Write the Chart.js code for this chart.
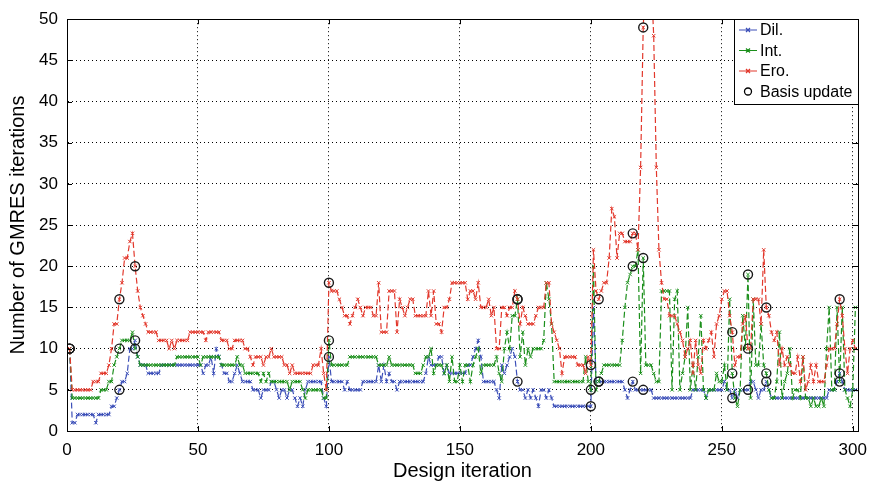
<!DOCTYPE html>
<html>
<head>
<meta charset="utf-8">
<script src="https://cdn.jsdelivr.net/npm/chart.js@4.4.1/dist/chart.umd.min.js"></script>
<style>
  html, body { margin: 0; padding: 0; background: #fff; }
  #wrap { width: 873px; height: 488px; position: relative; }
</style>
</head>
<body>
<div id="wrap"><canvas id="gmresChart"></canvas></div>
<script>
// GMRES iterations per design iteration (iterations 1..301)
const dil = [
  10, 1, 1, 2, 2, 2, 2, 2, 2, 2,
  1, 2, 2, 2, 2, 2, 3, 3, 4, 5,
  6, 6, 7, 10, 10, 11, 9, 8, 8, 8,
  7, 7, 7, 7, 7, 8, 8, 8, 8, 8,
  8, 8, 8, 8, 8, 8, 8, 8, 8, 8,
  8, 7, 8, 8, 9, 7, 10, 9, 8, 7,
  7, 6, 6, 7, 8, 7, 6, 6, 6, 6,
  5, 5, 5, 4, 5, 5, 5, 6, 6, 5,
  4, 5, 5, 4, 5, 5, 4, 3, 4, 3,
  5, 6, 6, 6, 6, 6, 6, 4, 3, 9,
  6, 6, 6, 6, 6, 5, 6, 5, 5, 5,
  5, 5, 6, 6, 6, 6, 6, 6, 8, 6,
  8, 6, 7, 6, 6, 5, 6, 6, 6, 6,
  6, 6, 6, 6, 6, 6, 7, 9, 8, 8,
  8, 9, 9, 7, 8, 7, 7, 7, 7, 7,
  7, 7, 8, 8, 9, 10, 11, 9, 6, 6,
  6, 6, 6, 5, 4, 8, 7, 8, 9, 10,
  9, 6, 5, 5, 4, 5, 4, 5, 4, 3,
  5, 5, 4, 5, 4, 3, 3, 3, 3, 3,
  3, 3, 3, 3, 3, 3, 3, 3, 3, 3,
  15, 6, 6, 6, 6, 6, 6, 6, 6, 6,
  6, 6, 5, 4, 5, 6, 5, 5, 5, 5,
  5, 5, 5, 4, 4, 4, 4, 4, 4, 4,
  4, 4, 4, 4, 4, 4, 4, 4, 5, 5,
  5, 5, 5, 4, 5, 5, 5, 5, 5, 5,
  6, 5, 5, 4, 5, 4, 5, 5, 5, 5,
  6, 6, 5, 4, 5, 5, 6, 5, 4, 4,
  4, 4, 4, 4, 4, 4, 4, 4, 4, 4,
  4, 4, 4, 4, 4, 4, 4, 4, 4, 4,
  5, 5, 5, 6, 7, 6, 5, 5, 5, 5,
  5
];

const int = [
  10, 4, 4, 4, 4, 4, 4, 4, 4, 4,
  4, 4, 5, 5, 5, 6, 6, 8, 9, 10,
  11, 11, 11, 11, 12, 10, 9, 8, 8, 8,
  8, 8, 8, 8, 8, 8, 8, 8, 8, 8,
  8, 9, 9, 9, 9, 9, 9, 9, 9, 9,
  8, 9, 9, 9, 9, 9, 9, 9, 8, 8,
  8, 8, 8, 8, 9, 8, 8, 7, 7, 7,
  7, 7, 7, 6, 7, 6, 7, 6, 6, 6,
  6, 6, 6, 6, 5, 6, 6, 6, 6, 5,
  4, 5, 5, 5, 5, 5, 5, 4, 4, 11,
  8, 8, 8, 8, 8, 8, 8, 9, 9, 9,
  9, 9, 9, 9, 9, 9, 9, 9, 8, 8,
  8, 8, 9, 8, 8, 8, 8, 8, 8, 8,
  8, 8, 7, 7, 7, 8, 9, 9, 10, 7,
  8, 8, 8, 7, 8, 6, 9, 6, 6, 8,
  6, 8, 8, 6, 8, 9, 10, 7, 8, 8,
  8, 8, 8, 9, 7, 6, 10, 12, 10, 14,
  14, 16, 9, 12, 8, 10, 9, 10, 10, 10,
  10, 11, 18, 16, 13, 6, 6, 6, 6, 6,
  6, 6, 6, 6, 6, 6, 6, 9, 6, 5,
  20, 5, 6, 7, 8, 8, 8, 8, 8, 8,
  8, 11, 15, 18, 19, 20, 20, 22, 7, 21,
  8, 8, 8, 7, 6, 6, 17, 17, 17, 17,
  5, 16, 17, 5, 7, 9, 15, 5, 8, 5,
  9, 14, 5, 4, 5, 5, 5, 7, 6, 6,
  8, 5, 16, 7, 4, 3, 5, 14, 10, 19,
  4, 16, 8, 8, 13, 8, 7, 5, 4, 4,
  6, 12, 4, 6, 7, 10, 4, 5, 5, 4,
  9, 4, 4, 3, 4, 3, 3, 4, 3, 10,
  15, 5, 5, 15, 6, 15, 5, 4, 3, 5,
  15
];

const ero = [
  10, 5, 5, 5, 5, 5, 5, 5, 5, 6,
  6, 6, 7, 7, 7, 8, 10, 13, 13, 16,
  18, 21, 21, 23, 24, 20, 17, 15, 14, 13,
  12, 12, 12, 12, 11, 11, 11, 11, 10, 11,
  10, 11, 11, 11, 11, 11, 12, 12, 12, 12,
  12, 12, 11, 12, 12, 12, 12, 12, 11, 11,
  11, 10, 10, 11, 11, 11, 11, 10, 10, 9,
  8, 9, 9, 9, 8, 9, 9, 10, 9, 9,
  9, 9, 8, 8, 7, 8, 7, 7, 7, 7,
  7, 7, 7, 8, 8, 8, 10, 7, 5, 18,
  17, 17, 17, 16, 15, 14, 14, 13, 14, 15,
  16, 15, 14, 15, 15, 15, 14, 14, 18, 12,
  12, 12, 17, 17, 17, 12, 16, 15, 14, 15,
  16, 16, 14, 14, 14, 14, 14, 17, 14, 17,
  13, 13, 12, 15, 15, 16, 18, 18, 18, 18,
  18, 18, 16, 17, 17, 16, 18, 15, 15, 15,
  16, 14, 15, 10, 10, 15, 15, 14, 15, 15,
  17, 16, 13, 15, 14, 13, 13, 13, 14, 15,
  15, 15, 18, 18, 13, 12, 11, 10, 7, 9,
  9, 9, 9, 9, 8, 8, 8, 7, 9, 8,
  22, 17, 16, 17, 18, 18, 21, 27, 26, 21,
  24, 24, 23, 23, 23, 24, 24, 22, 32, 49,
  56, 58, 55, 48, 32, 22, 18, 16, 16, 14,
  14, 14, 13, 12, 11, 9, 10, 11, 7, 11,
  8, 7, 11, 10, 11, 12, 9, 13, 14, 16,
  17, 17, 14, 12, 8, 9, 9, 13, 14, 10,
  10, 16, 16, 16, 13, 22, 15, 14, 12, 11,
  12, 8, 10, 8, 9, 8, 7, 7, 9, 6,
  9, 5, 6, 8, 6, 8, 6, 6, 6, 8,
  10, 10, 10, 13, 16, 14, 10, 7, 10, 11,
  10
];

// design iterations at which the reduced basis was updated
const basisUpdates = [1, 20, 26, 100, 172, 200, 203, 216, 220, 254, 260, 267, 295];

const xTicks = [0, 50, 100, 150, 200, 250, 300];
const yTicks = [0, 5, 10, 15, 20, 25, 30, 35, 40, 45, 50];

const FONT = "'Liberation Sans', Arial, Helvetica, sans-serif";
const BLUE = '#3c4fb8';
const GREEN = '#1b8f1b';
const RED = '#e2382c';

const toPoints = arr => arr.map((v, i) => ({ x: i + 1, y: v }));
const basisPoints = [];
basisUpdates.forEach(it => {
    [dil, int, ero].forEach(series => basisPoints.push({ x: it, y: series[it - 1] }));
});

const lineSeries = (label, values, color, order) => ({
    label,
    data: toPoints(values),
    borderColor: color,
    backgroundColor: color,
    borderWidth: 1.2,
    borderDash: [6, 3],
    pointStyle: 'crossRot',
    pointRadius: 2.4,
    pointBorderWidth: 1,
    pointBorderColor: color,
    tension: 0,
    order
});

// box, inward ticks and legend drawn in MATLAB style
const matlabFrame = {
    id: 'matlabFrame',
    afterDatasetsDraw(chart) {
        const { ctx, chartArea: a, scales } = chart;
        ctx.save();
        ctx.setLineDash([]);
        ctx.strokeStyle = '#000';
        ctx.lineWidth = 1;
        ctx.strokeRect(Math.round(a.left) + 0.5, Math.round(a.top) + 0.5,
            Math.round(a.right - a.left), Math.round(a.bottom - a.top));

        ctx.beginPath();
        xTicks.forEach(v => {
            const px = Math.round(scales.x.getPixelForValue(v)) + 0.5;
            ctx.moveTo(px, a.bottom); ctx.lineTo(px, a.bottom - 5);
            ctx.moveTo(px, a.top); ctx.lineTo(px, a.top + 5);
        });
        yTicks.forEach(v => {
            const py = Math.round(scales.y.getPixelForValue(v)) + 0.5;
            ctx.moveTo(a.left, py); ctx.lineTo(a.left + 5, py);
            ctx.moveTo(a.right, py); ctx.lineTo(a.right - 5, py);
        });
        ctx.stroke();

        // legend
        const boxW = 124, boxH = 85;
        const bx = Math.round(a.right) - boxW, by = Math.round(a.top);
        ctx.fillStyle = '#fff';
        ctx.fillRect(bx, by, boxW, boxH);
        ctx.strokeRect(bx + 0.5, by + 0.5, boxW, boxH);
        ctx.font = '16px ' + FONT;
        ctx.textBaseline = 'middle';
        chart.data.datasets.forEach((ds, i) => {
            const y = by + 11 + i * 20.5;
            const cx = bx + 14;
            if (ds.showLine === false) {
                ctx.strokeStyle = '#000';
                ctx.lineWidth = 1.3;
                ctx.beginPath();
                ctx.arc(cx, y, 3.5, 0, Math.PI * 2);
                ctx.stroke();
            } else {
                ctx.strokeStyle = ds.borderColor;
                ctx.lineWidth = 1.2;
                ctx.beginPath();
                ctx.moveTo(bx + 5, y); ctx.lineTo(bx + 23, y);
                ctx.moveTo(cx - 2, y - 2); ctx.lineTo(cx + 2, y + 2);
                ctx.moveTo(cx - 2, y + 2); ctx.lineTo(cx + 2, y - 2);
                ctx.stroke();
            }
            ctx.fillStyle = '#000';
            ctx.fillText(ds.label, bx + 26, y + 1);
        });
        ctx.restore();
    }
};

const ctx = document.getElementById('gmresChart').getContext('2d');
new Chart(ctx, {
    type: 'line',
    data: {
        datasets: [
            lineSeries('Dil.', dil, BLUE, 3),
            lineSeries('Int.', int, GREEN, 2),
            lineSeries('Ero.', ero, RED, 1),
            {
                label: 'Basis update',
                data: basisPoints,
                showLine: false,
                pointStyle: 'circle',
                pointRadius: 4.5,
                pointBorderWidth: 1.4,
                pointBorderColor: '#1a1a1a',
                pointBackgroundColor: 'rgba(0,0,0,0)',
                borderColor: '#1a1a1a',
                backgroundColor: 'rgba(0,0,0,0)',
                order: 0
            }
        ]
    },
    options: {
        responsive: true,
        maintainAspectRatio: false,
        animation: false,
        layout: { padding: { top: 12, right: 15, left: 0, bottom: 0 } },
        plugins: {
            legend: { display: false },
            tooltip: { enabled: false }
        },
        scales: {
            x: {
                type: 'linear',
                min: 0,
                max: 302,
                afterBuildTicks: scale => { scale.ticks = xTicks.map(v => ({ value: v })); },
                afterFit: scale => {
                    scale.height = 57;
                    scale.paddingLeft = 0;
                    scale.paddingRight = 0;
                },
                ticks: {
                    color: '#000',
                    padding: 9,
                    maxRotation: 0,
                    font: { size: 17, family: FONT }
                },
                grid: { color: '#000', lineWidth: 1, drawTicks: false },
                border: { display: true, color: '#000', dash: [1, 3] },
                title: {
                    display: true,
                    text: 'Design iteration',
                    color: '#000',
                    font: { size: 20, family: FONT },
                    padding: { top: 0, bottom: 5 }
                }
            },
            y: {
                min: 0,
                max: 50,
                afterBuildTicks: scale => { scale.ticks = yTicks.map(v => ({ value: v })); },
                afterFit: scale => { scale.width = 67; },
                ticks: {
                    color: '#000',
                    padding: 9,
                    font: { size: 17, family: FONT }
                },
                grid: { color: '#000', lineWidth: 1, drawTicks: false },
                border: { display: true, color: '#000', dash: [1, 3] },
                title: {
                    display: true,
                    text: 'Number of GMRES iterations',
                    color: '#000',
                    font: { size: 20, family: FONT },
                    padding: { top: 6, bottom: 0 }
                }
            }
        }
    },
    plugins: [matlabFrame]
});
</script>
</body>
</html>
